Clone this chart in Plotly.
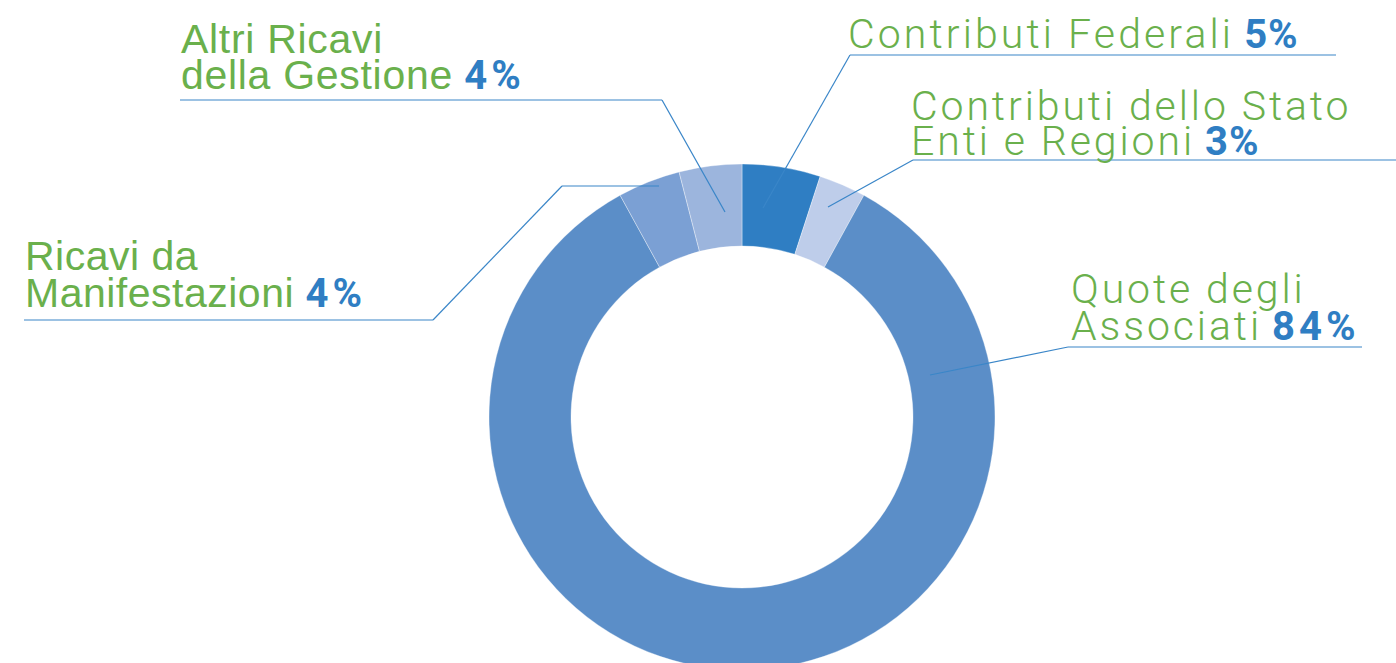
import plotly.graph_objects as go

# ---- data ----
labels = ["Contributi Federali", "Contributi dello Stato Enti e Regioni",
          "Quote degli Associati", "Ricavi da Manifestazioni",
          "Altri Ricavi della Gestione"]
values = [5, 3, 84, 4, 4]
pct_labels = ["5%", "3%", "84%", "4%", "4%"]
label_lines = [["Contributi Federali"],
               ["Contributi dello Stato", "Enti e Regioni"],
               ["Quote degli", "Associati"],
               ["Ricavi da", "Manifestazioni"],
               ["Altri Ricavi", "della Gestione"]]
colors = ["#2F7EC3", "#BECDEA", "#5B8EC8", "#7BA0D4", "#9CB5DD"]

# ---- layout constants (pixels) ----
W, H = 1396, 671
GREEN = "#6AB04C"
BLUE = "#2F7EC3"
LINE = "#3A86C8"
cx, cy, R = 742, 417, 253

def px(x):
    return x / W

def py(y):
    return 1 - y / H

# per label: font style, left x, baselines of lines, leader polyline
label_style = [
    dict(fam="Roboto", ls=3.1, pls=1, x=847, base=[48], path=[(763, 208), (850, 55), (1336, 55)]),
    dict(fam="Roboto", ls=2.9, pls=1, x=910, base=[120, 155], path=[(828, 207), (913, 160), (1396, 160)]),
    dict(fam="Roboto", ls=2.9, pls=4, x=1070, base=[303, 340], path=[(930, 375), (1068, 347), (1362, 347)]),
    dict(fam="Liberation Sans", ls=0.5, pls=4, x=24, base=[270, 308], path=[(659, 186), (562, 186), (433, 320), (24, 320)]),
    dict(fam="Liberation Sans", ls=0.7, pls=4, x=180, base=[53, 90], path=[(725, 212), (662, 100), (180, 100)]),
]
FS = 41
PFS = 40

fig = go.Figure(go.Pie(
    labels=labels, values=values, sort=False, direction="clockwise", rotation=0,
    hole=171 / 253, textinfo="none", hoverinfo="label+percent",
    marker=dict(colors=colors, line=dict(color="rgba(255,255,255,0.35)", width=1)),
    domain=dict(x=[(cx - R) / W, (cx + R) / W], y=[py(cy + R), py(cy - R)]),
    showlegend=False,
))

annotations = []
shapes = []
for lines, pct, st in zip(label_lines, pct_labels, label_style):
    for i, (ln, b) in enumerate(zip(lines, st["base"])):
        txt = f"<span style='letter-spacing:{st['ls']}px'>{ln}</span>"
        if i == len(lines) - 1:
            txt += (f" <span style='font-family:Roboto;font-weight:bold;font-size:{PFS}px;"
                    f"color:{BLUE};letter-spacing:{st['pls']}px'>{pct}</span>")
        annotations.append(dict(
            text=txt, x=px(st["x"]), y=py(b - 0.35 * FS), xref="paper", yref="paper",
            xanchor="left", yanchor="middle", showarrow=False, borderpad=0,
            font=dict(family=st["fam"], size=FS, color=GREEN, weight=300),
        ))
    pts = st["path"]
    for (x0, y0), (x1, y1) in zip(pts[:-1], pts[1:]):
        shapes.append(dict(type="line", xref="paper", yref="paper",
                           x0=px(x0), y0=py(y0), x1=px(x1), y1=py(y1),
                           line=dict(color=LINE, width=1.2)))

fig.update_layout(
    width=W, height=H, margin=dict(l=0, r=0, t=0, b=0),
    paper_bgcolor="white", plot_bgcolor="white",
    annotations=annotations, shapes=shapes,
)

fig.write_html("out.html", config={"displayModeBar": False}, post_script=(
    "document.body.style.margin='0';"
    "document.body.style.overflow='hidden';"
    "document.documentElement.style.overflow='hidden';"))
